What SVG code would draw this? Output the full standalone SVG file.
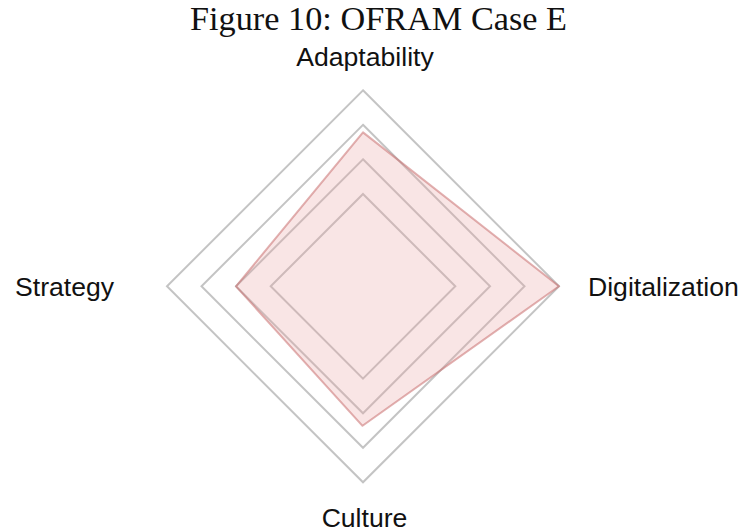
<svg xmlns="http://www.w3.org/2000/svg" width="744" height="531" viewBox="0 0 744 531">
  <style>
    .title { font-family: "Liberation Serif", "DejaVu Serif", serif; font-size: 33px; fill: #111; }
    .axis-label { font-family: "Liberation Sans", Arial, sans-serif; font-size: 26.6px; fill: #111; }
    .ring { fill: none; stroke: #c4c4c4; stroke-width: 2; }
    .series { fill: #e8a0a0; fill-opacity: 0.28; stroke: #c87070; stroke-opacity: 0.55; stroke-width: 2; stroke-linejoin: round; }
  </style>
  <rect width="744" height="531" fill="#ffffff"/>

  <text class="title" x="378.5" y="30" text-anchor="middle" textLength="377" lengthAdjust="spacingAndGlyphs">Figure 10: OFRAM Case E</text>

  <!-- grid rings, centre (363, 286.3) -->
  <g id="grid">
    <polygon class="ring" points="363,90.3 559,286.3 363,482.3 167,286.3"/>
    <polygon class="ring" points="363,124.8 524.5,286.3 363,447.8 201.5,286.3"/>
    <polygon class="ring" points="363,159.3 490,286.3 363,413.3 236,286.3"/>
    <polygon class="ring" points="363,194 455.3,286.3 363,378.6 270.7,286.3"/>
  </g>

  <!-- data series -->
  <g id="series-case-e">
    <polygon class="series" points="363,132.4 559,286.3 362.5,425.8 236,286.3"/>
  </g>

  <g id="label-adaptability">
    <text class="axis-label" x="365" y="66" text-anchor="middle">Adaptability</text>
  </g>
  <g id="label-digitalization">
    <text class="axis-label" x="588" y="296">Digitalization</text>
  </g>
  <g id="label-culture">
    <text class="axis-label" x="364.5" y="526.5" text-anchor="middle">Culture</text>
  </g>
  <g id="label-strategy">
    <text class="axis-label" x="15" y="296">Strategy</text>
  </g>
</svg>
